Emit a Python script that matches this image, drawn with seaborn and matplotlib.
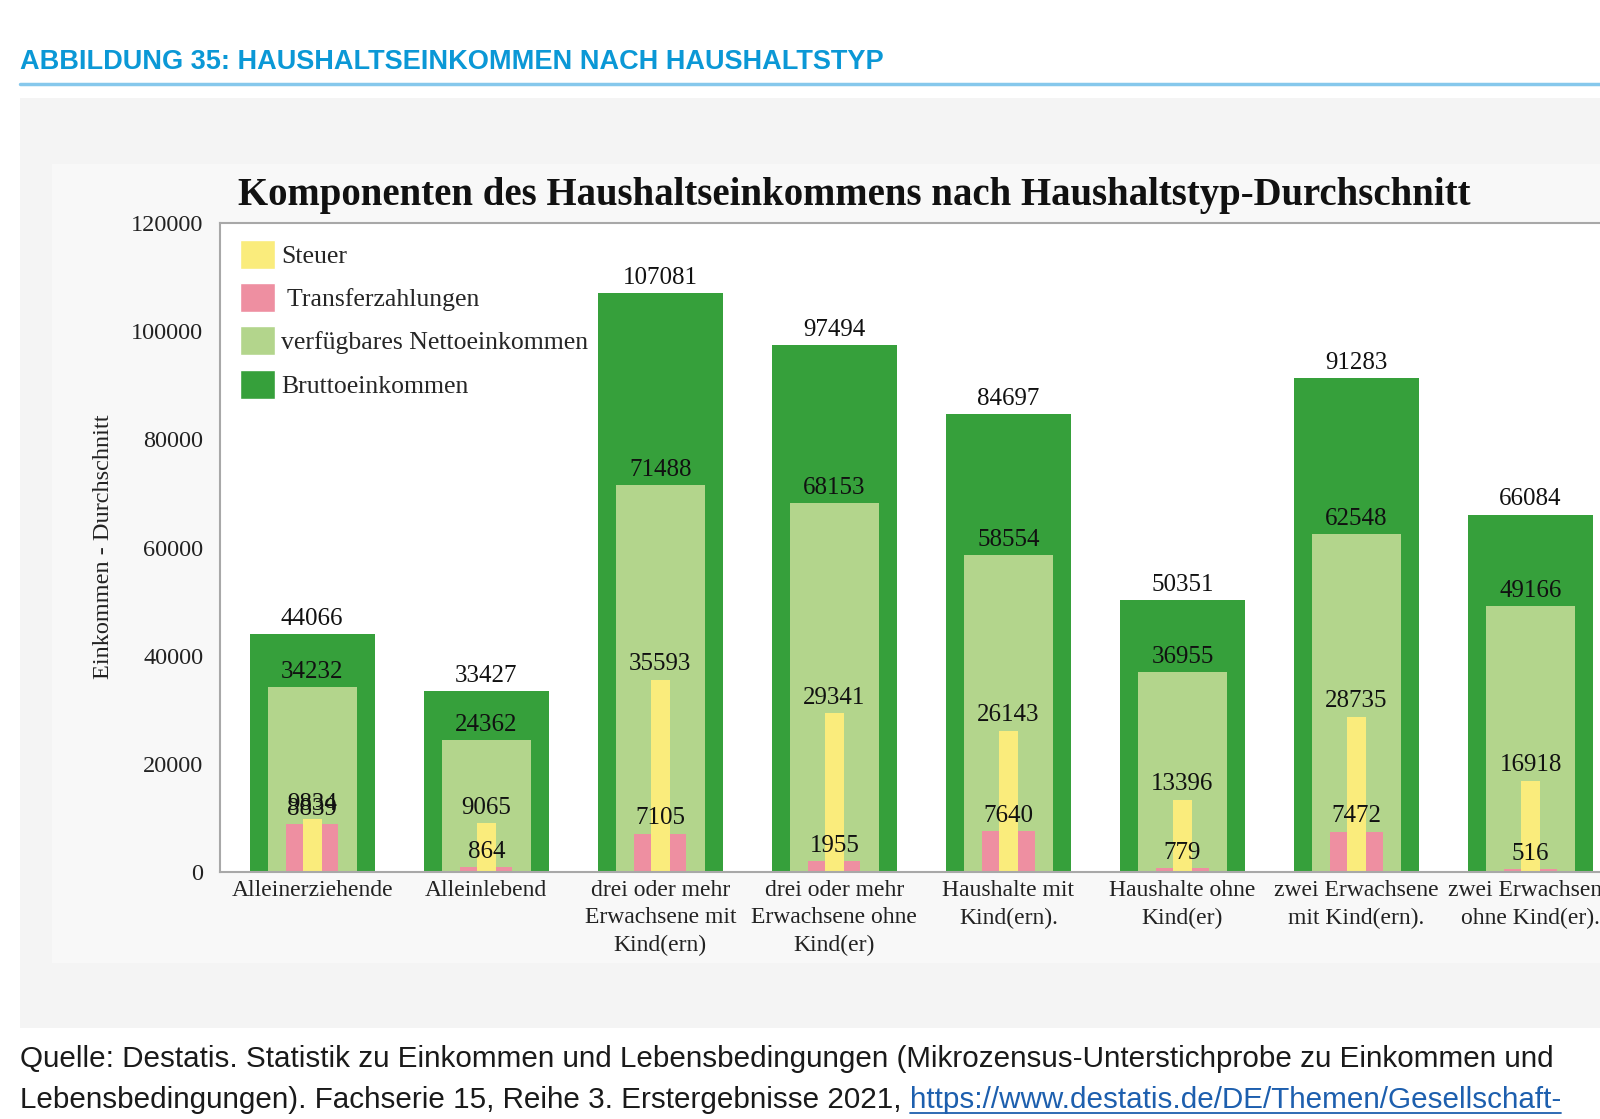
import matplotlib
matplotlib.use("Agg")
import matplotlib.pyplot as plt
import seaborn as sns
from matplotlib.patches import Patch, Rectangle
from matplotlib.lines import Line2D

# ── Data ──────────────────────────────────────────────────────────────────────
categories = [
    "Alleinerziehende",
    "Alleinlebend",
    "drei oder mehr\nErwachsene mit\nKind(ern)",
    "drei oder mehr\nErwachsene ohne\nKind(er)",
    "Haushalte mit\nKind(ern).",
    "Haushalte ohne\nKind(er)",
    "zwei Erwachsene\nmit Kind(ern).",
    "zwei Erwachsene\nohne Kind(er).",
]
brutto = [44066, 33427, 107081, 97494, 84697, 50351, 91283, 66084]
netto = [34232, 24362, 71488, 68153, 58554, 36955, 62548, 49166]
steuer = [9834, 9065, 35593, 29341, 26143, 13396, 28735, 16918]
transfer = [8839, 864, 7105, 1955, 7640, 779, 7472, 516]
y_ticks = [0, 20000, 40000, 60000, 80000, 100000, 120000]

# ── Colours ───────────────────────────────────────────────────────────────────
DARKGREEN = "#36a03b"
LIGHTGREEN = "#b3d58c"
YELLOW = "#faec7c"
PINK = "#ee8fa1"
AXISGREY = "#a8a8a8"
BLUE = "#0b98d6"

W, H = 1600, 1119


def fx(px):
    return px / W


def fy(py):
    return 1 - py / H


sns.set_style("white")
plt.rcParams["font.family"] = ["Liberation Serif", "DejaVu Serif"]

fig = plt.figure(figsize=(W / 100, H / 100), dpi=100)
fig.patch.set_facecolor("white")

# background boxes
fig.add_artist(Rectangle((fx(20), fy(1028)), 1 - fx(20), (1028 - 98) / H,
                         transform=fig.transFigure, facecolor="#f4f4f4",
                         edgecolor="none", zorder=-3))
fig.add_artist(Rectangle((fx(52), fy(963)), 1 - fx(52), (963 - 164) / H,
                         transform=fig.transFigure, facecolor="#f8f8f8",
                         edgecolor="none", zorder=-2))
fig.add_artist(Line2D([fx(20), 1], [fy(84), fy(84)], transform=fig.transFigure,
                      color="#86c8ec", lw=2.5))

# header
fig.text(fx(20), fy(62), "ABBILDUNG 35: HAUSHALTSEINKOMMEN NACH HAUSHALTSTYP",
         family=["Liberation Sans", "DejaVu Sans"],
         weight="bold", fontsize=19.5, color=BLUE, ha="left", va="center")

# ── Chart ─────────────────────────────────────────────────────────────────────
ax = fig.add_axes([fx(220), fy(872), (1635 - 220) / W, (872 - 223) / H])
ax.set_facecolor("white")

layers = [
    (brutto, 0.72, DARKGREEN),
    (netto, 0.51, LIGHTGREEN),
    (transfer, 0.30, PINK),
    (steuer, 0.11, YELLOW),
]
for vals, w, col in layers:
    sns.barplot(x=categories, y=vals, width=w, color=col, saturation=1,
                edgecolor="none", linewidth=0, ax=ax, order=categories)

for cont in ax.containers:
    ax.bar_label(cont, fmt="%d", padding=3, fontsize=18, color="#111111")

ax.set_xlim(-0.53, 7.6)
ax.set_ylim(0, 120000)
ax.set_yticks(y_ticks)
ax.set_yticklabels([str(v) for v in y_ticks], fontsize=17.5, color="#222222")
ax.set_xticks(range(len(categories)))
ax.set_xticklabels(categories, fontsize=17, linespacing=1.38, color="#222222")
ax.tick_params(axis="x", length=0, pad=6)
ax.tick_params(axis="y", length=8, width=1, color=AXISGREY, pad=4)
ax.set_xlabel("")
ax.set_ylabel("")
for side in ["left", "top", "bottom"]:
    ax.spines[side].set_visible(True)
    ax.spines[side].set_color(AXISGREY)
    ax.spines[side].set_linewidth(1.5)
ax.spines["right"].set_visible(False)

fig.text(fx(104), fy(547), "Einkommen - Durchschnitt", rotation=90,
         fontsize=17.5, color="#222222", ha="center", va="center")
fig.text(fx(238), fy(196),
         "Komponenten des Haushaltseinkommens nach Haushaltstyp-Durchschnitt",
         fontsize=27.9, weight="bold", color="#111111", ha="left", va="center")

handles = [
    Patch(facecolor=YELLOW, label="Steuer"),
    Patch(facecolor=PINK, label=" Transferzahlungen"),
    Patch(facecolor=LIGHTGREEN, label="verfügbares Nettoeinkommen"),
    Patch(facecolor=DARKGREEN, label="Bruttoeinkommen"),
]
ax.legend(handles=handles, loc="upper left", bbox_to_anchor=(fx(240), fy(240)),
          bbox_transform=fig.transFigure, frameon=False, fontsize=18.5,
          handlelength=1.35, handleheight=1.35, handletextpad=0.25,
          labelspacing=0.56, borderpad=0, borderaxespad=0)

# ── Source note ───────────────────────────────────────────────────────────────
src_font = ["Liberation Sans", "DejaVu Sans"]
fig.text(fx(20), fy(1059),
         "Quelle: Destatis. Statistik zu Einkommen und Lebensbedingungen "
         "(Mikrozensus-Unterstichprobe zu Einkommen und",
         family=src_font, fontsize=21.3, color="#1a1a1a", ha="left", va="center")
t2 = fig.text(fx(20), fy(1100),
              "Lebensbedingungen). Fachserie 15, Reihe 3. Erstergebnisse 2021, ",
              family=src_font, fontsize=21.3, color="#1a1a1a", ha="left", va="center")
renderer = fig.canvas.get_renderer()
bb = t2.get_window_extent(renderer=renderer)
link = fig.text(bb.x1 / W, fy(1100), "https://www.destatis.de/DE/Themen/Gesellschaft-",
                family=src_font, fontsize=21.3, color="#1d5fae", ha="left", va="center")
lb = link.get_window_extent(renderer=renderer)
fig.add_artist(Line2D([lb.x0 / W, lb.x1 / W], [(lb.y0 + 1) / H] * 2,
                      transform=fig.transFigure, color="#1d5fae", lw=1.3))

fig.savefig("out.png", dpi=100, facecolor="white")
